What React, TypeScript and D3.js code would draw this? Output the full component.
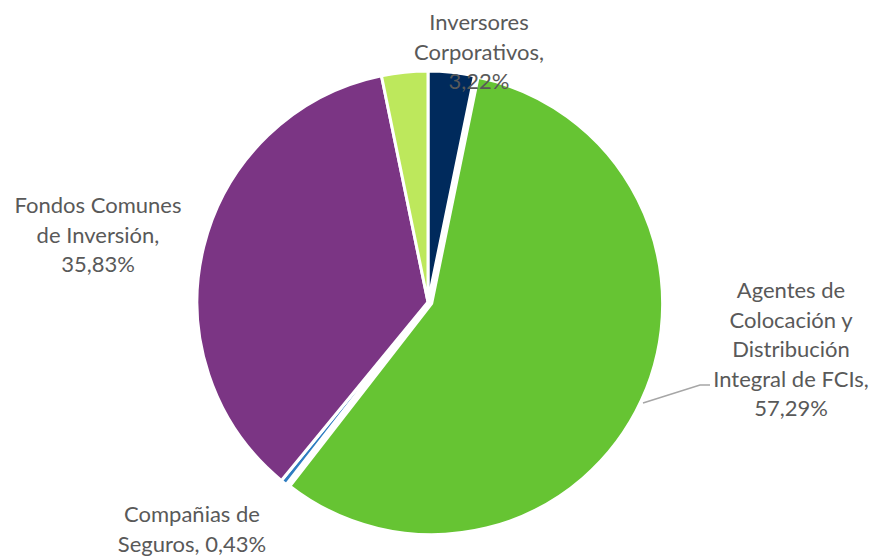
import React from "react";
import * as d3 from "d3";

const categories = [
  "Inversores Corporativos",
  "Agentes de Colocación y Distribución Integral de FCIs",
  "Compañias de Seguros",
  "Fondos Comunes de Inversión",
  "Otros",
];
const values = [3.22, 57.29, 0.43, 35.83, 3.23];
const colors = ["#002A5C", "#66C433", "#2F7DC1", "#7B3584", "#BDE85C"];
const labelLines: string[][] = [
  ["Inversores", "Corporativos,", "3,22%"],
  ["Agentes de", "Colocación y", "Distribución", "Integral de FCIs,", "57,29%"],
  ["Compañias de", "Seguros, 0,43%"],
  ["Fondos Comunes", "de Inversión,", "35,83%"],
  [],
];

const W = 874;
const H = 558;
const cx = 428;
const cy = 302;
const R = 231;
const explode = [0, 4, 0, 0, 0];
const labelPos = [
  { x: 479, y: 30 },
  { x: 791, y: 298 },
  { x: 192, y: 522 },
  { x: 98, y: 213 },
  { x: 0, y: 0 },
];
const lineH = 29.5;

export default function App() {
  const pie = d3
    .pie<number>()
    .sort(null)
    .startAngle(0)
    .endAngle(2 * Math.PI)
    .value((d) => d);
  const arcs = pie(values);
  const arc = d3.arc<d3.PieArcDatum<number>>().innerRadius(0).outerRadius(R);

  return (
    <svg
      width={W}
      height={H}
      style={{ position: "absolute", left: 0, top: 0, background: "#fff" }}
    >
      <g transform={`translate(${cx},${cy})`}>
        {arcs.map((a, i) => {
          const mid = (a.startAngle + a.endAngle) / 2;
          const dx = Math.sin(mid) * explode[i];
          const dy = -Math.cos(mid) * explode[i];
          return (
            <path
              key={categories[i]}
              d={arc(a) || ""}
              fill={colors[i]}
              stroke="#fff"
              strokeWidth={3}
              strokeLinejoin="round"
              transform={`translate(${dx},${dy})`}
            />
          );
        })}
      </g>
      <polyline
        points="643,403 700,385 710,385"
        fill="none"
        stroke="#A6A6A6"
        strokeWidth={1.5}
      />
      {labelLines.map((lines, i) =>
        lines.length ? (
          <text
            key={"l" + i}
            x={labelPos[i].x}
            y={labelPos[i].y}
            textAnchor="middle"
            fontFamily="Lato, 'Open Sans', sans-serif"
            fontSize={22}
            fill="#595959"
          >
            {lines.map((ln, j) => (
              <tspan key={j} x={labelPos[i].x} y={labelPos[i].y + j * lineH}>
                {ln}
              </tspan>
            ))}
          </text>
        ) : null
      )}
    </svg>
  );
}
